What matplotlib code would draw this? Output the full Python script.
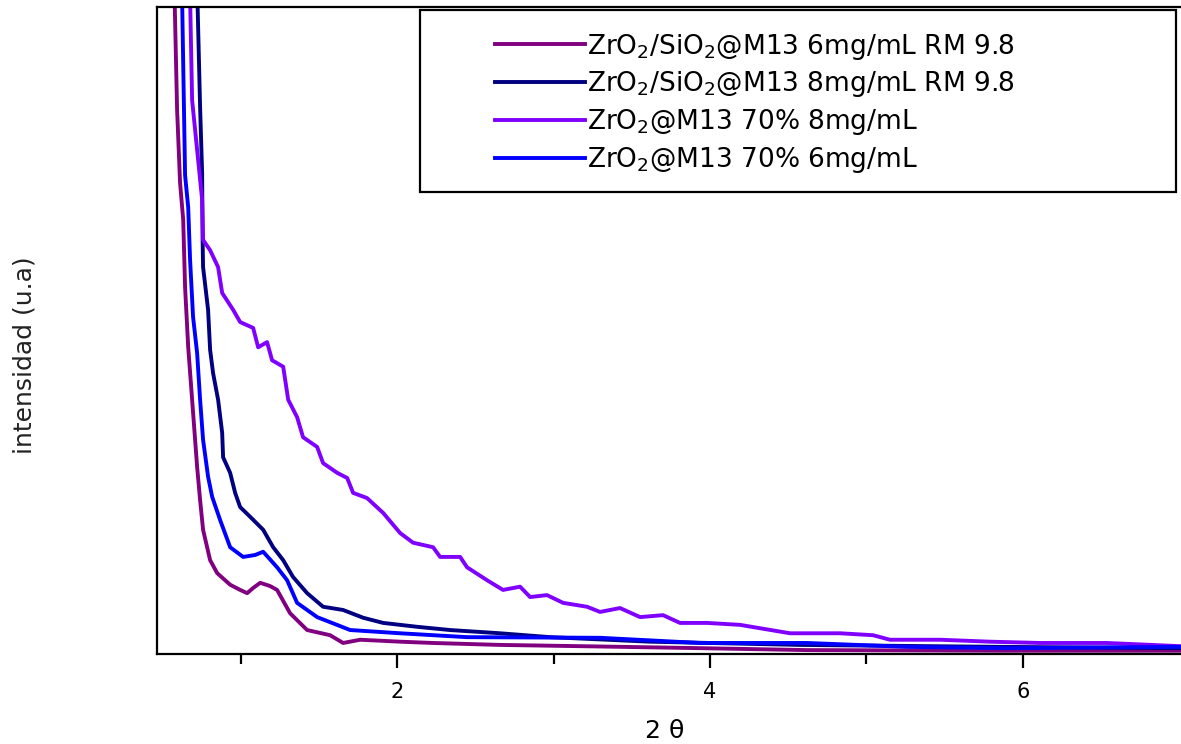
import matplotlib
matplotlib.use("Agg")
import matplotlib.pyplot as plt
from matplotlib.patches import Rectangle
from matplotlib.ticker import FixedLocator

plt.rcParams.update({
    "font.family": "DejaVu Sans",
    "mathtext.fontset": "dejavusans",
})

# ---------- data (2 theta, intensity in arbitrary units) ----------
labels = [
    r"ZrO$_2$/SiO$_2$@M13 6mg/mL RM 9.8",
    r"ZrO$_2$/SiO$_2$@M13 8mg/mL RM 9.8",
    r"ZrO$_2$@M13 70% 8mg/mL",
    r"ZrO$_2$@M13 70% 6mg/mL",
]
colors = ["#800080", "#000080", "#8000FF", "#0000FF"]

x_zs6 = [0.570, 0.594, 0.613, 0.633, 0.645, 0.665, 0.690, 0.722, 0.741, 0.760,
         0.805, 0.850, 0.933, 0.997, 1.042, 1.080, 1.125, 1.188, 1.233, 1.316,
         1.425, 1.572, 1.655, 1.764, 2.019, 2.230, 2.658, 3.188, 3.936, 4.620,
         5.853, 7.010]
y_zs6 = [110.0, 84.1, 72.8, 67.1, 56.7, 47.4, 39.3, 28.9, 23.8, 19.2,
         14.5, 12.5, 10.7, 9.9, 9.4, 10.2, 11.0, 10.5, 9.9, 6.3,
         3.7, 2.9, 1.7, 2.2, 1.9, 1.7, 1.4, 1.2, 0.9, 0.6,
         0.5, 0.5]

x_zs8 = [0.715, 0.741, 0.754, 0.757, 0.760, 0.792, 0.805, 0.824, 0.856, 0.882,
         0.888, 0.933, 0.965, 0.997, 1.061, 1.144, 1.208, 1.272, 1.335, 1.425,
         1.527, 1.655, 1.783, 1.911, 2.128, 2.339, 2.658, 2.978, 3.617, 4.575,
         5.850, 7.010]
y_zs8 = [110.0, 84.5, 74.3, 64.0, 59.8, 53.2, 47.0, 43.4, 39.3, 34.2,
         30.4, 28.0, 24.9, 22.7, 21.2, 19.2, 16.5, 14.5, 11.9, 9.4,
         7.3, 6.8, 5.6, 4.8, 4.2, 3.7, 3.2, 2.6, 1.9, 1.4,
         1.1, 0.9]

x_z8 = [0.670, 0.690, 0.722, 0.754, 0.760, 0.805, 0.856, 0.882, 0.952, 0.997,
        1.080, 1.112, 1.169, 1.201, 1.272, 1.304, 1.361, 1.399, 1.489, 1.527,
        1.617, 1.681, 1.719, 1.808, 1.911, 2.019, 2.102, 2.230, 2.275, 2.403,
        2.447, 2.575, 2.677, 2.786, 2.850, 2.958, 3.061, 3.214, 3.297, 3.425,
        3.553, 3.700, 3.808, 3.981, 4.192, 4.511, 4.831, 5.042, 5.150, 5.470,
        5.789, 6.109, 6.537, 7.010]
y_z8 = [110.0, 85.6, 77.9, 70.2, 64.0, 62.4, 59.8, 55.8, 53.2, 51.3,
        50.4, 47.4, 48.2, 45.4, 44.4, 39.3, 36.6, 33.5, 32.0, 29.5,
        28.0, 27.2, 24.9, 24.1, 21.8, 18.7, 17.2, 16.5, 15.0, 15.0,
        13.4, 11.4, 9.9, 10.4, 8.8, 9.1, 7.9, 7.3, 6.5, 7.1,
        5.7, 6.0, 4.8, 4.8, 4.5, 3.2, 3.2, 2.9, 2.2, 2.2,
        1.9, 1.7, 1.7, 1.2]

x_z6 = [0.620, 0.645, 0.665, 0.677, 0.696, 0.722, 0.741, 0.760, 0.792, 0.818,
        0.869, 0.933, 1.016, 1.093, 1.144, 1.233, 1.297, 1.361, 1.489, 1.700,
        2.019, 2.447, 3.297, 3.936, 4.620, 5.259, 5.898, 7.010]
y_z6 = [110.0, 74.0, 69.0, 60.9, 52.1, 46.5, 39.3, 33.1, 27.4, 24.3,
        20.7, 16.5, 15.0, 15.3, 15.8, 13.4, 11.4, 7.9, 5.7, 3.7,
        3.2, 2.6, 2.5, 1.7, 1.7, 1.1, 0.9, 1.1]

series = [(x_zs6, y_zs6), (x_zs8, y_zs8), (x_z8, y_z8), (x_z6, y_z6)]

fig = plt.figure(figsize=(11.81, 7.44), dpi=100)
ax = fig.add_axes([0.133, 0.121, 0.867, 0.8696])

handles = []
for (xs, ys), c, lab in zip(series, colors, labels):
    h, = ax.plot(xs, ys, color=c, lw=2.8, label=lab)
    handles.append(h)

ax.set_xlim(0.466, 7.01)
ax.set_ylim(0, 100)

ax.xaxis.set_major_locator(FixedLocator([2, 4, 6]))
ax.xaxis.set_minor_locator(FixedLocator([1, 3, 5]))
ax.tick_params(axis="x", which="major", direction="out", length=10,
               width=1.6, pad=10, labelsize=15)
ax.tick_params(axis="x", which="minor", direction="out", length=7, width=1.6)
ax.set_yticks([])

for s in ["left", "bottom", "top"]:
    ax.spines[s].set_linewidth(1.6)
ax.spines["right"].set_visible(False)

ax.set_xlabel("2 θ", fontsize=18)
ax.xaxis.set_label_coords(0.496, -0.10)
ax.set_ylabel("intensidad (u.a)", fontsize=18, color="#222222")
ax.yaxis.set_label_coords(-0.118, 0.462)

# legend box
ax.add_patch(Rectangle((0.257, 0.714), 0.738, 0.281, transform=ax.transAxes,
                       facecolor="white", edgecolor="black", lw=1.6, zorder=5))
leg = ax.legend(handles=handles, loc="upper left", bbox_to_anchor=(0.330, 0.962),
                frameon=False, fontsize=19, handlelength=3.4, handletextpad=0.1,
                labelspacing=0.3, borderpad=0, borderaxespad=0)
leg.set_zorder(6)

fig.savefig("out.png", dpi=100, facecolor="white")
